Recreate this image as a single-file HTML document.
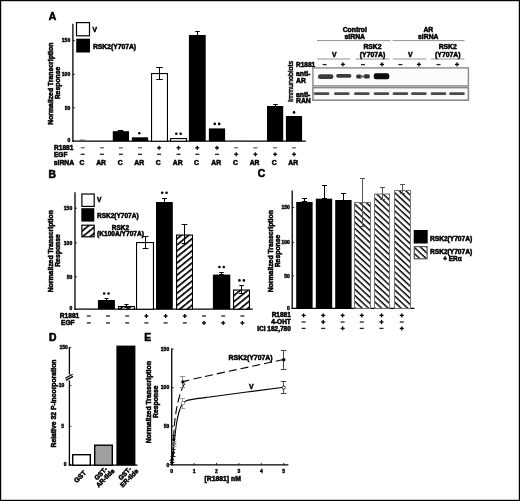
<!DOCTYPE html>
<html><head><meta charset="utf-8"><style>
html,body{margin:0;padding:0;background:#fff;}
svg{display:block;will-change:transform;}
text{font-family:"Liberation Sans", sans-serif;stroke:#000;stroke-width:0.5px;}
</style></head><body>
<svg width="520" height="501" viewBox="0 0 520 501">
<defs>
<pattern id="hatchB" patternUnits="userSpaceOnUse" width="20" height="4.7" patternTransform="rotate(-39)">
<rect width="20" height="4.7" fill="#fff"/><rect x="0" y="0" width="20" height="1.7" fill="#000"/></pattern>
<pattern id="hatchC" patternUnits="userSpaceOnUse" width="20" height="4.45" patternTransform="rotate(43)">
<rect width="20" height="4.45" fill="#fff"/><rect x="0" y="0" width="20" height="1.45" fill="#000"/></pattern>
<filter id="gblur" x="0" y="0" width="520" height="501" filterUnits="userSpaceOnUse"><feConvolveMatrix order="3" kernelMatrix="1 2 1 2 8 2 1 2 1" divisor="20" edgeMode="duplicate" preserveAlpha="true"/></filter>
<filter id="blur" x="-20%" y="-50%" width="140%" height="200%"><feGaussianBlur stdDeviation="0.75"/></filter>
</defs>
<rect width="520" height="501" fill="#fff"/>
<rect x="0.60" y="0.60" width="518.80" height="499.80" fill="none" stroke="#000" stroke-width="1.2"/>
<text x="48.80" y="19.90" font-size="10.3" font-weight="bold" style="stroke-width:0.6px">A</text>
<line x1="72.90" y1="23.80" x2="72.90" y2="141.80" stroke="#000" stroke-width="1.3" />
<line x1="72.30" y1="141.20" x2="305.80" y2="141.20" stroke="#000" stroke-width="1.3" />
<line x1="72.90" y1="40.60" x2="74.90" y2="40.60" stroke="#000" stroke-width="0.8" />
<text x="70.20" y="42.39" font-size="5.0" text-anchor="end" font-weight="bold" fill="#000" style="stroke-width:0.4px">150</text>
<line x1="72.90" y1="74.30" x2="74.90" y2="74.30" stroke="#000" stroke-width="0.8" />
<text x="70.20" y="76.09" font-size="5.0" text-anchor="end" font-weight="bold" fill="#000" style="stroke-width:0.4px">100</text>
<line x1="72.90" y1="107.80" x2="74.90" y2="107.80" stroke="#000" stroke-width="0.8" />
<text x="70.20" y="109.59" font-size="5.0" text-anchor="end" font-weight="bold" fill="#000" style="stroke-width:0.4px">50</text>
<text x="70.20" y="141.99" font-size="5.0" text-anchor="end" font-weight="bold" fill="#000" style="stroke-width:0.4px">0</text>
<text x="0" y="0" font-size="6.85" text-anchor="middle" font-weight="bold" transform="translate(53.20 83.70) rotate(-90)">Normalized Transcription</text>
<text x="0" y="0" font-size="6.85" text-anchor="middle" font-weight="bold" transform="translate(60.40 83.00) rotate(-90)">Response</text>
<rect x="76.50" y="22.60" width="13.00" height="13.20" fill="#fff" stroke="#000" stroke-width="1.2"/>
<rect x="76.20" y="38.70" width="13.80" height="13.80" fill="#000"/>
<text x="92.60" y="31.63" font-size="6.8" text-anchor="start" font-weight="bold" fill="#000" >V</text>
<text x="92.90" y="48.62" font-size="6.75" text-anchor="start" font-weight="bold" fill="#000" >RSK2(Y707A)</text>
<rect x="79.70" y="139.60" width="5.20" height="1.20" fill="#555"/>
<rect x="112.80" y="131.20" width="16.20" height="10.00" fill="#000"/>
<line x1="120.50" y1="130.50" x2="120.50" y2="131.50" stroke="#000" stroke-width="1.0" />
<line x1="117.80" y1="130.50" x2="123.20" y2="130.50" stroke="#000" stroke-width="1.0" />
<line x1="117.80" y1="131.50" x2="123.20" y2="131.50" stroke="#000" stroke-width="1.0" />
<rect x="131.90" y="137.30" width="16.20" height="3.90" fill="#000"/>
<circle cx="139.30" cy="133.20" r="1.3" fill="#000"/>
<rect x="151.55" y="73.55" width="15.90" height="67.65" fill="#fff" stroke="#000" stroke-width="1.1"/>
<line x1="159.50" y1="67.50" x2="159.50" y2="79.50" stroke="#000" stroke-width="1.0" />
<line x1="156.25" y1="67.50" x2="162.75" y2="67.50" stroke="#000" stroke-width="1.0" />
<line x1="156.25" y1="79.50" x2="162.75" y2="79.50" stroke="#000" stroke-width="1.0" />
<rect x="170.55" y="138.55" width="15.90" height="2.65" fill="#fff" stroke="#000" stroke-width="1.1"/>
<circle cx="176.30" cy="133.80" r="1.3" fill="#000"/>
<circle cx="180.70" cy="133.80" r="1.3" fill="#000"/>
<rect x="188.90" y="35.00" width="16.80" height="106.20" fill="#000"/>
<line x1="197.50" y1="31.50" x2="197.50" y2="35.50" stroke="#000" stroke-width="1.0" />
<line x1="195.25" y1="31.50" x2="199.75" y2="31.50" stroke="#000" stroke-width="1.0" />
<line x1="195.25" y1="35.50" x2="199.75" y2="35.50" stroke="#000" stroke-width="1.0" />
<rect x="208.90" y="128.40" width="16.20" height="12.80" fill="#000"/>
<circle cx="214.80" cy="123.90" r="1.3" fill="#000"/>
<circle cx="219.20" cy="123.90" r="1.3" fill="#000"/>
<rect x="230.20" y="140.20" width="12.00" height="0.80" fill="#777"/>
<rect x="267.00" y="106.00" width="16.20" height="35.20" fill="#000"/>
<line x1="275.50" y1="104.50" x2="275.50" y2="106.50" stroke="#000" stroke-width="1.0" />
<line x1="273.25" y1="104.50" x2="277.75" y2="104.50" stroke="#000" stroke-width="1.0" />
<line x1="273.25" y1="106.50" x2="277.75" y2="106.50" stroke="#000" stroke-width="1.0" />
<rect x="285.90" y="116.00" width="16.20" height="25.20" fill="#000"/>
<circle cx="294.00" cy="112.40" r="1.3" fill="#000"/>
<text x="54.00" y="149.96" font-size="6.6" text-anchor="start" font-weight="bold" fill="#000" >R1881</text>
<text x="54.00" y="156.93" font-size="6.5" text-anchor="start" font-weight="bold" fill="#000" >EGF</text>
<text x="53.80" y="164.73" font-size="6.8" text-anchor="start" font-weight="bold" fill="#000" >siRNA</text>
<rect x="80.70" y="147.15" width="4.00" height="1.30" fill="#666"/>
<rect x="80.70" y="153.65" width="4.00" height="1.30" fill="#222"/>
<text x="81.90" y="164.83" font-size="6.8" text-anchor="middle" font-weight="bold" fill="#000" >C</text>
<rect x="99.90" y="147.15" width="4.00" height="1.30" fill="#666"/>
<rect x="99.90" y="153.65" width="4.00" height="1.30" fill="#222"/>
<text x="101.10" y="164.83" font-size="6.8" text-anchor="middle" font-weight="bold" fill="#000" >AR</text>
<rect x="118.90" y="147.15" width="4.00" height="1.30" fill="#666"/>
<rect x="118.90" y="153.65" width="4.00" height="1.30" fill="#222"/>
<text x="120.10" y="164.83" font-size="6.8" text-anchor="middle" font-weight="bold" fill="#000" >C</text>
<rect x="138.00" y="147.15" width="4.00" height="1.30" fill="#666"/>
<rect x="138.00" y="153.65" width="4.00" height="1.30" fill="#222"/>
<text x="139.20" y="164.83" font-size="6.8" text-anchor="middle" font-weight="bold" fill="#000" >AR</text>
<rect x="157.10" y="147.15" width="4.00" height="1.30" fill="#000"/>
<rect x="158.45" y="145.80" width="1.30" height="4.00" fill="#000"/>
<rect x="157.10" y="153.65" width="4.00" height="1.30" fill="#222"/>
<text x="158.30" y="164.83" font-size="6.8" text-anchor="middle" font-weight="bold" fill="#000" >C</text>
<rect x="176.50" y="147.15" width="4.00" height="1.30" fill="#000"/>
<rect x="177.85" y="145.80" width="1.30" height="4.00" fill="#000"/>
<rect x="176.50" y="153.65" width="4.00" height="1.30" fill="#222"/>
<text x="177.70" y="164.83" font-size="6.8" text-anchor="middle" font-weight="bold" fill="#000" >AR</text>
<rect x="195.30" y="147.15" width="4.00" height="1.30" fill="#000"/>
<rect x="196.65" y="145.80" width="1.30" height="4.00" fill="#000"/>
<rect x="195.30" y="153.65" width="4.00" height="1.30" fill="#222"/>
<text x="196.50" y="164.83" font-size="6.8" text-anchor="middle" font-weight="bold" fill="#000" >C</text>
<rect x="215.00" y="147.15" width="4.00" height="1.30" fill="#000"/>
<rect x="216.35" y="145.80" width="1.30" height="4.00" fill="#000"/>
<rect x="215.00" y="153.65" width="4.00" height="1.30" fill="#222"/>
<text x="216.20" y="164.83" font-size="6.8" text-anchor="middle" font-weight="bold" fill="#000" >AR</text>
<rect x="234.20" y="147.15" width="4.00" height="1.30" fill="#666"/>
<rect x="234.20" y="153.65" width="4.00" height="1.30" fill="#000"/>
<rect x="235.55" y="152.30" width="1.30" height="4.00" fill="#000"/>
<text x="235.40" y="164.83" font-size="6.8" text-anchor="middle" font-weight="bold" fill="#000" >C</text>
<rect x="253.40" y="147.15" width="4.00" height="1.30" fill="#666"/>
<rect x="253.40" y="153.65" width="4.00" height="1.30" fill="#000"/>
<rect x="254.75" y="152.30" width="1.30" height="4.00" fill="#000"/>
<text x="254.60" y="164.83" font-size="6.8" text-anchor="middle" font-weight="bold" fill="#000" >AR</text>
<rect x="273.10" y="147.15" width="4.00" height="1.30" fill="#666"/>
<rect x="273.10" y="153.65" width="4.00" height="1.30" fill="#000"/>
<rect x="274.45" y="152.30" width="1.30" height="4.00" fill="#000"/>
<text x="274.30" y="164.83" font-size="6.8" text-anchor="middle" font-weight="bold" fill="#000" >C</text>
<rect x="292.00" y="147.15" width="4.00" height="1.30" fill="#666"/>
<rect x="292.00" y="153.65" width="4.00" height="1.30" fill="#000"/>
<rect x="293.35" y="152.30" width="1.30" height="4.00" fill="#000"/>
<text x="293.20" y="164.83" font-size="6.8" text-anchor="middle" font-weight="bold" fill="#000" >AR</text>
<text x="354.80" y="32.33" font-size="6.8" text-anchor="middle" font-weight="bold" fill="#000" >Control</text>
<text x="354.80" y="39.43" font-size="6.8" text-anchor="middle" font-weight="bold" fill="#000" >siRNA</text>
<text x="428.30" y="32.33" font-size="6.8" text-anchor="middle" font-weight="bold" fill="#000" >AR</text>
<text x="428.30" y="39.43" font-size="6.8" text-anchor="middle" font-weight="bold" fill="#000" >siRNA</text>
<line x1="317.00" y1="40.60" x2="390.50" y2="40.60" stroke="#888" stroke-width="0.9" />
<line x1="392.50" y1="40.60" x2="464.50" y2="40.60" stroke="#888" stroke-width="0.9" />
<line x1="317.10" y1="59.00" x2="350.40" y2="59.00" stroke="#888" stroke-width="0.9" />
<text x="334.35" y="57.13" font-size="6.8" text-anchor="middle" font-weight="bold" fill="#000" >V</text>
<line x1="355.50" y1="59.00" x2="389.50" y2="59.00" stroke="#888" stroke-width="0.9" />
<text x="372.50" y="49.43" font-size="6.8" text-anchor="middle" font-weight="bold" fill="#000" >RSK2</text>
<text x="372.50" y="57.13" font-size="6.8" text-anchor="middle" font-weight="bold" fill="#000" >(Y707A)</text>
<line x1="392.90" y1="59.00" x2="426.40" y2="59.00" stroke="#888" stroke-width="0.9" />
<text x="410.25" y="57.13" font-size="6.8" text-anchor="middle" font-weight="bold" fill="#000" >V</text>
<line x1="431.00" y1="59.00" x2="464.50" y2="59.00" stroke="#888" stroke-width="0.9" />
<text x="447.75" y="49.43" font-size="6.8" text-anchor="middle" font-weight="bold" fill="#000" >RSK2</text>
<text x="447.75" y="57.13" font-size="6.8" text-anchor="middle" font-weight="bold" fill="#000" >(Y707A)</text>
<text x="315.20" y="66.53" font-size="6.5" text-anchor="end" font-weight="bold" fill="#000" >R1881</text>
<rect x="322.60" y="63.95" width="4.00" height="1.30" fill="#222"/>
<rect x="340.90" y="63.75" width="4.00" height="1.30" fill="#000"/>
<rect x="342.25" y="62.40" width="1.30" height="4.00" fill="#000"/>
<rect x="361.00" y="63.95" width="4.00" height="1.30" fill="#222"/>
<rect x="380.00" y="63.75" width="4.00" height="1.30" fill="#000"/>
<rect x="381.35" y="62.40" width="1.30" height="4.00" fill="#000"/>
<rect x="398.40" y="63.95" width="4.00" height="1.30" fill="#222"/>
<rect x="416.90" y="63.75" width="4.00" height="1.30" fill="#000"/>
<rect x="418.25" y="62.40" width="1.30" height="4.00" fill="#000"/>
<rect x="436.50" y="63.95" width="4.00" height="1.30" fill="#222"/>
<rect x="455.00" y="63.75" width="4.00" height="1.30" fill="#000"/>
<rect x="456.35" y="62.40" width="1.30" height="4.00" fill="#000"/>
<text x="0" y="0" font-size="7.2" text-anchor="middle" style="stroke-width:0.45px" transform="translate(292.9 81.4) rotate(-90)">Immunoblots</text>
<text x="296.00" y="76.43" font-size="6.8" text-anchor="start" font-weight="bold" fill="#000" >anti-</text>
<text x="296.00" y="83.23" font-size="6.8" text-anchor="start" font-weight="bold" fill="#000" >AR</text>
<text x="296.00" y="96.63" font-size="6.8" text-anchor="start" font-weight="bold" fill="#000" >anti-</text>
<text x="296.00" y="102.73" font-size="6.8" text-anchor="start" font-weight="bold" fill="#000" >RAN</text>
<rect x="312.90" y="67.90" width="155.50" height="18.00" fill="#fcfcfc" stroke="#8a8a8a" stroke-width="1.4"/>
<rect x="312.90" y="87.60" width="155.50" height="12.60" fill="#fafafa" stroke="#8a8a8a" stroke-width="1.6"/>
<g filter="url(#blur)">
<rect x="318" y="74.3" width="15.4" height="4.6" rx="2.2" fill="#3c3c3c"/>
<rect x="336.2" y="74.0" width="15.2" height="3.7" rx="1.8" fill="#3c3c3c"/>
<rect x="356.2" y="74.4" width="5.6" height="4.2" rx="1.6" fill="#333"/>
<rect x="363.6" y="74.2" width="6.2" height="4.4" rx="1.6" fill="#333"/>
<rect x="360" y="75.6" width="5" height="1.8" fill="#666"/>
<rect x="373.7" y="73.2" width="15.6" height="6.1" rx="2.2" fill="#080808"/>
<rect x="313.8" y="92.3" width="15.6" height="2.8" rx="1.4" fill="#4a4a4a"/>
<rect x="334.0" y="92.3" width="15.6" height="2.8" rx="1.4" fill="#4a4a4a"/>
<rect x="354.0" y="92.3" width="15.6" height="2.8" rx="1.4" fill="#4a4a4a"/>
<rect x="373.7" y="92.3" width="15.6" height="2.8" rx="1.4" fill="#4a4a4a"/>
<rect x="392.6" y="92.3" width="15.6" height="2.8" rx="1.4" fill="#4a4a4a"/>
<rect x="411.1" y="92.3" width="15.6" height="2.8" rx="1.4" fill="#4a4a4a"/>
<rect x="430.7" y="92.3" width="15.6" height="2.8" rx="1.4" fill="#4a4a4a"/>
<rect x="449.2" y="92.3" width="15.6" height="2.8" rx="1.4" fill="#4a4a4a"/>
</g>
<text x="48.60" y="177.70" font-size="10.3" font-weight="bold" style="stroke-width:0.6px">B</text>
<line x1="75.00" y1="192.30" x2="75.00" y2="309.80" stroke="#000" stroke-width="1.3" />
<line x1="74.40" y1="309.20" x2="252.70" y2="309.20" stroke="#000" stroke-width="1.3" />
<line x1="75.00" y1="208.20" x2="77.00" y2="208.20" stroke="#000" stroke-width="0.8" />
<text x="72.20" y="209.99" font-size="5.0" text-anchor="end" font-weight="bold" fill="#000" style="stroke-width:0.4px">150</text>
<line x1="75.00" y1="242.90" x2="77.00" y2="242.90" stroke="#000" stroke-width="0.8" />
<text x="72.20" y="244.69" font-size="5.0" text-anchor="end" font-weight="bold" fill="#000" style="stroke-width:0.4px">100</text>
<line x1="75.00" y1="276.80" x2="77.00" y2="276.80" stroke="#000" stroke-width="0.8" />
<text x="72.20" y="278.59" font-size="5.0" text-anchor="end" font-weight="bold" fill="#000" style="stroke-width:0.4px">50</text>
<text x="72.20" y="309.89" font-size="5.0" text-anchor="end" font-weight="bold" fill="#000" style="stroke-width:0.4px">0</text>
<text x="0" y="0" font-size="6.85" text-anchor="middle" font-weight="bold" transform="translate(53.40 251.20) rotate(-90)">Normalized Transcription</text>
<text x="0" y="0" font-size="6.85" text-anchor="middle" font-weight="bold" transform="translate(60.40 250.50) rotate(-90)">Response</text>
<rect x="81.90" y="194.00" width="12.30" height="12.40" fill="#fff" stroke="#000" stroke-width="1.2"/>
<rect x="81.30" y="208.20" width="13.00" height="13.40" fill="#000"/>
<rect x="81.90" y="225.20" width="12.30" height="11.60" fill="url(#hatchB)" stroke="#000" stroke-width="1.2"/>
<text x="97.00" y="201.96" font-size="6.6" text-anchor="start" font-weight="bold" fill="#000" >V</text>
<text x="97.00" y="217.63" font-size="6.5" text-anchor="start" font-weight="bold" fill="#000" >RSK2(Y707A)</text>
<text x="120.50" y="229.73" font-size="6.5" text-anchor="middle" font-weight="bold" fill="#000" >RSK2</text>
<text x="120.50" y="236.16" font-size="6.6" text-anchor="middle" font-weight="bold" fill="#000" >(K100A/Y707A)</text>
<rect x="82.00" y="308.00" width="10.00" height="1.00" fill="#777"/>
<rect x="97.90" y="300.00" width="17.00" height="9.20" fill="#000"/>
<line x1="106.50" y1="298.50" x2="106.50" y2="300.50" stroke="#000" stroke-width="1.0" />
<line x1="104.50" y1="298.50" x2="108.50" y2="298.50" stroke="#000" stroke-width="1.0" />
<line x1="104.50" y1="300.50" x2="108.50" y2="300.50" stroke="#000" stroke-width="1.0" />
<circle cx="104.20" cy="293.50" r="1.3" fill="#000"/>
<circle cx="108.60" cy="293.50" r="1.3" fill="#000"/>
<rect x="118.55" y="306.55" width="15.90" height="2.65" fill="url(#hatchB)" stroke="#000" stroke-width="1.1"/>
<line x1="126.50" y1="304.50" x2="126.50" y2="307.50" stroke="#000" stroke-width="1.0" />
<line x1="124.50" y1="304.50" x2="128.50" y2="304.50" stroke="#000" stroke-width="1.0" />
<line x1="124.50" y1="307.50" x2="128.50" y2="307.50" stroke="#000" stroke-width="1.0" />
<rect x="136.55" y="242.55" width="16.90" height="66.65" fill="#fff" stroke="#000" stroke-width="1.1"/>
<line x1="145.50" y1="236.50" x2="145.50" y2="248.50" stroke="#000" stroke-width="1.0" />
<line x1="142.60" y1="236.50" x2="148.40" y2="236.50" stroke="#000" stroke-width="1.0" />
<line x1="142.60" y1="248.50" x2="148.40" y2="248.50" stroke="#000" stroke-width="1.0" />
<rect x="156.00" y="202.00" width="16.80" height="107.20" fill="#000"/>
<line x1="164.50" y1="198.50" x2="164.50" y2="202.50" stroke="#000" stroke-width="1.0" />
<line x1="162.00" y1="198.50" x2="167.00" y2="198.50" stroke="#000" stroke-width="1.0" />
<line x1="162.00" y1="202.50" x2="167.00" y2="202.50" stroke="#000" stroke-width="1.0" />
<circle cx="162.20" cy="192.70" r="1.3" fill="#000"/>
<circle cx="166.60" cy="192.70" r="1.3" fill="#000"/>
<rect x="176.55" y="235.05" width="15.90" height="74.15" fill="url(#hatchB)" stroke="#000" stroke-width="1.1"/>
<line x1="184.50" y1="224.50" x2="184.50" y2="243.50" stroke="#000" stroke-width="1.0" />
<line x1="181.60" y1="224.50" x2="187.40" y2="224.50" stroke="#000" stroke-width="1.0" />
<line x1="181.60" y1="243.50" x2="187.40" y2="243.50" stroke="#000" stroke-width="1.0" />
<rect x="212.90" y="274.60" width="17.40" height="34.60" fill="#000"/>
<line x1="221.50" y1="272.50" x2="221.50" y2="274.50" stroke="#000" stroke-width="1.0" />
<line x1="219.25" y1="272.50" x2="223.75" y2="272.50" stroke="#000" stroke-width="1.0" />
<line x1="219.25" y1="274.50" x2="223.75" y2="274.50" stroke="#000" stroke-width="1.0" />
<circle cx="219.40" cy="267.00" r="1.3" fill="#000"/>
<circle cx="223.80" cy="267.00" r="1.3" fill="#000"/>
<rect x="233.55" y="290.05" width="15.90" height="19.15" fill="url(#hatchB)" stroke="#000" stroke-width="1.1"/>
<line x1="241.50" y1="285.50" x2="241.50" y2="293.50" stroke="#000" stroke-width="1.0" />
<line x1="239.25" y1="285.50" x2="243.75" y2="285.50" stroke="#000" stroke-width="1.0" />
<line x1="239.25" y1="293.50" x2="243.75" y2="293.50" stroke="#000" stroke-width="1.0" />
<circle cx="239.45" cy="280.40" r="1.3" fill="#000"/>
<circle cx="243.85" cy="280.40" r="1.3" fill="#000"/>
<text x="59.80" y="317.76" font-size="6.6" text-anchor="start" font-weight="bold" fill="#000" >R1881</text>
<text x="61.00" y="325.26" font-size="6.6" text-anchor="start" font-weight="bold" fill="#000" >EGF</text>
<rect x="86.80" y="315.35" width="4.00" height="1.30" fill="#222"/>
<rect x="86.80" y="322.25" width="4.00" height="1.30" fill="#222"/>
<rect x="106.00" y="315.35" width="4.00" height="1.30" fill="#222"/>
<rect x="106.00" y="322.25" width="4.00" height="1.30" fill="#222"/>
<rect x="125.20" y="315.35" width="4.00" height="1.30" fill="#222"/>
<rect x="125.20" y="322.25" width="4.00" height="1.30" fill="#222"/>
<rect x="144.40" y="315.35" width="4.00" height="1.30" fill="#000"/>
<rect x="145.75" y="314.00" width="1.30" height="4.00" fill="#000"/>
<rect x="144.40" y="322.25" width="4.00" height="1.30" fill="#222"/>
<rect x="163.60" y="315.35" width="4.00" height="1.30" fill="#000"/>
<rect x="164.95" y="314.00" width="1.30" height="4.00" fill="#000"/>
<rect x="163.60" y="322.25" width="4.00" height="1.30" fill="#222"/>
<rect x="182.80" y="315.35" width="4.00" height="1.30" fill="#000"/>
<rect x="184.15" y="314.00" width="1.30" height="4.00" fill="#000"/>
<rect x="182.80" y="322.25" width="4.00" height="1.30" fill="#222"/>
<rect x="202.00" y="315.35" width="4.00" height="1.30" fill="#222"/>
<rect x="202.00" y="322.25" width="4.00" height="1.30" fill="#000"/>
<rect x="203.35" y="320.90" width="1.30" height="4.00" fill="#000"/>
<rect x="221.20" y="315.35" width="4.00" height="1.30" fill="#222"/>
<rect x="221.20" y="322.25" width="4.00" height="1.30" fill="#000"/>
<rect x="222.55" y="320.90" width="1.30" height="4.00" fill="#000"/>
<rect x="240.40" y="315.35" width="4.00" height="1.30" fill="#222"/>
<rect x="240.40" y="322.25" width="4.00" height="1.30" fill="#000"/>
<rect x="241.75" y="320.90" width="1.30" height="4.00" fill="#000"/>
<text x="257.80" y="177.30" font-size="10.3" font-weight="bold" style="stroke-width:0.6px">C</text>
<line x1="292.20" y1="190.60" x2="292.20" y2="309.00" stroke="#000" stroke-width="1.3" />
<line x1="291.60" y1="308.40" x2="414.40" y2="308.40" stroke="#000" stroke-width="1.3" />
<line x1="292.20" y1="207.50" x2="294.20" y2="207.50" stroke="#000" stroke-width="0.8" />
<text x="289.80" y="209.29" font-size="5.0" text-anchor="end" font-weight="bold" fill="#000" style="stroke-width:0.4px">150</text>
<line x1="292.20" y1="242.40" x2="294.20" y2="242.40" stroke="#000" stroke-width="0.8" />
<text x="289.80" y="244.19" font-size="5.0" text-anchor="end" font-weight="bold" fill="#000" style="stroke-width:0.4px">100</text>
<line x1="292.20" y1="275.80" x2="294.20" y2="275.80" stroke="#000" stroke-width="0.8" />
<text x="289.80" y="277.59" font-size="5.0" text-anchor="end" font-weight="bold" fill="#000" style="stroke-width:0.4px">50</text>
<text x="289.80" y="309.69" font-size="5.0" text-anchor="end" font-weight="bold" fill="#000" style="stroke-width:0.4px">0</text>
<text x="0" y="0" font-size="6.85" text-anchor="middle" font-weight="bold" transform="translate(272.60 251.20) rotate(-90)">Normalized Transcription</text>
<text x="0" y="0" font-size="6.85" text-anchor="middle" font-weight="bold" transform="translate(279.60 251.00) rotate(-90)">Response</text>
<rect x="296.20" y="201.90" width="16.40" height="106.50" fill="#000"/>
<rect x="315.80" y="198.70" width="16.40" height="109.70" fill="#000"/>
<rect x="335.20" y="200.00" width="16.40" height="108.40" fill="#000"/>
<rect x="354.50" y="202.50" width="16.00" height="105.90" fill="url(#hatchC)" stroke="#777" stroke-width="1.0"/>
<rect x="374.50" y="194.00" width="15.00" height="114.40" fill="url(#hatchC)" stroke="#777" stroke-width="1.0"/>
<rect x="394.50" y="190.50" width="16.00" height="117.90" fill="url(#hatchC)" stroke="#777" stroke-width="1.0"/>
<line x1="304.50" y1="198.50" x2="304.50" y2="201.50" stroke="#000" stroke-width="1.0" />
<line x1="302.00" y1="198.50" x2="307.00" y2="198.50" stroke="#000" stroke-width="1.0" />
<line x1="302.00" y1="201.50" x2="307.00" y2="201.50" stroke="#000" stroke-width="1.0" />
<line x1="324.50" y1="185.50" x2="324.50" y2="198.50" stroke="#000" stroke-width="1.0" />
<line x1="322.00" y1="185.50" x2="327.00" y2="185.50" stroke="#000" stroke-width="1.0" />
<line x1="322.00" y1="198.50" x2="327.00" y2="198.50" stroke="#000" stroke-width="1.0" />
<line x1="343.50" y1="193.50" x2="343.50" y2="200.50" stroke="#000" stroke-width="1.0" />
<line x1="341.00" y1="193.50" x2="346.00" y2="193.50" stroke="#000" stroke-width="1.0" />
<line x1="341.00" y1="200.50" x2="346.00" y2="200.50" stroke="#000" stroke-width="1.0" />
<line x1="362.50" y1="178.50" x2="362.50" y2="226.50" stroke="#555" stroke-width="1.0" />
<line x1="360.00" y1="178.50" x2="365.00" y2="178.50" stroke="#555" stroke-width="1.0" />
<line x1="360.00" y1="226.50" x2="365.00" y2="226.50" stroke="#555" stroke-width="1.0" />
<line x1="382.50" y1="187.50" x2="382.50" y2="199.50" stroke="#555" stroke-width="1.0" />
<line x1="380.00" y1="187.50" x2="385.00" y2="187.50" stroke="#555" stroke-width="1.0" />
<line x1="380.00" y1="199.50" x2="385.00" y2="199.50" stroke="#555" stroke-width="1.0" />
<line x1="402.50" y1="184.50" x2="402.50" y2="193.50" stroke="#555" stroke-width="1.0" />
<line x1="400.00" y1="184.50" x2="405.00" y2="184.50" stroke="#555" stroke-width="1.0" />
<line x1="400.00" y1="193.50" x2="405.00" y2="193.50" stroke="#555" stroke-width="1.0" />
<text x="290.80" y="316.63" font-size="6.5" text-anchor="end" font-weight="bold" fill="#000" >R1881</text>
<text x="290.80" y="323.93" font-size="6.5" text-anchor="end" font-weight="bold" fill="#000" >4-OHT</text>
<text x="290.80" y="330.83" font-size="6.5" text-anchor="end" font-weight="bold" fill="#000" >ICI 182,780</text>
<rect x="301.60" y="314.75" width="4.00" height="1.30" fill="#000"/>
<rect x="302.95" y="313.40" width="1.30" height="4.00" fill="#000"/>
<rect x="301.60" y="321.35" width="4.00" height="1.30" fill="#222"/>
<rect x="301.60" y="327.75" width="4.00" height="1.30" fill="#222"/>
<rect x="321.20" y="314.75" width="4.00" height="1.30" fill="#000"/>
<rect x="322.55" y="313.40" width="1.30" height="4.00" fill="#000"/>
<rect x="321.20" y="321.35" width="4.00" height="1.30" fill="#000"/>
<rect x="322.55" y="320.00" width="1.30" height="4.00" fill="#000"/>
<rect x="321.20" y="327.75" width="4.00" height="1.30" fill="#222"/>
<rect x="340.60" y="314.75" width="4.00" height="1.30" fill="#000"/>
<rect x="341.95" y="313.40" width="1.30" height="4.00" fill="#000"/>
<rect x="340.60" y="321.35" width="4.00" height="1.30" fill="#222"/>
<rect x="340.60" y="327.75" width="4.00" height="1.30" fill="#000"/>
<rect x="341.95" y="326.40" width="1.30" height="4.00" fill="#000"/>
<rect x="359.80" y="314.75" width="4.00" height="1.30" fill="#000"/>
<rect x="361.15" y="313.40" width="1.30" height="4.00" fill="#000"/>
<rect x="359.80" y="321.35" width="4.00" height="1.30" fill="#222"/>
<rect x="359.80" y="327.75" width="4.00" height="1.30" fill="#222"/>
<rect x="379.50" y="314.75" width="4.00" height="1.30" fill="#000"/>
<rect x="380.85" y="313.40" width="1.30" height="4.00" fill="#000"/>
<rect x="379.50" y="321.35" width="4.00" height="1.30" fill="#000"/>
<rect x="380.85" y="320.00" width="1.30" height="4.00" fill="#000"/>
<rect x="379.50" y="327.75" width="4.00" height="1.30" fill="#222"/>
<rect x="399.80" y="314.75" width="4.00" height="1.30" fill="#000"/>
<rect x="401.15" y="313.40" width="1.30" height="4.00" fill="#000"/>
<rect x="399.80" y="321.35" width="4.00" height="1.30" fill="#222"/>
<rect x="399.80" y="327.75" width="4.00" height="1.30" fill="#000"/>
<rect x="401.15" y="326.40" width="1.30" height="4.00" fill="#000"/>
<rect x="413.70" y="230.00" width="14.00" height="13.50" fill="#000"/>
<rect x="414.30" y="246.60" width="12.80" height="12.20" fill="url(#hatchC)" stroke="#555" stroke-width="1.2"/>
<text x="430.00" y="241.26" font-size="6.6" text-anchor="start" font-weight="bold" fill="#000" >RSK2(Y707A)</text>
<text x="430.00" y="253.66" font-size="6.6" text-anchor="start" font-weight="bold" fill="#000" >RSK2(Y707A)</text>
<text x="452.50" y="260.69" font-size="6.4" text-anchor="middle" font-weight="bold" fill="#000" >+ ERα</text>
<text x="49.00" y="341.00" font-size="10.3" font-weight="bold" style="stroke-width:0.6px">D</text>
<line x1="69.40" y1="347.20" x2="69.40" y2="374.60" stroke="#000" stroke-width="1.3" />
<line x1="69.40" y1="380.30" x2="69.40" y2="465.80" stroke="#000" stroke-width="1.3" />
<line x1="68.80" y1="465.20" x2="137.50" y2="465.20" stroke="#000" stroke-width="1.3" />
<line x1="69.40" y1="347.60" x2="71.40" y2="347.60" stroke="#000" stroke-width="0.8" />
<line x1="65.30" y1="378.20" x2="72.60" y2="374.20" stroke="#000" stroke-width="1.3" />
<line x1="65.80" y1="380.40" x2="73.00" y2="376.40" stroke="#000" stroke-width="1.3" />
<text x="67.80" y="349.39" font-size="5.0" text-anchor="end" font-weight="bold" fill="#000" style="stroke-width:0.4px">150</text>
<line x1="69.40" y1="385.60" x2="71.40" y2="385.60" stroke="#000" stroke-width="0.8" />
<text x="64.20" y="386.99" font-size="5.0" text-anchor="end" font-weight="bold" fill="#000" style="stroke-width:0.4px">10</text>
<line x1="69.40" y1="426.40" x2="71.40" y2="426.40" stroke="#000" stroke-width="0.8" />
<text x="64.00" y="427.79" font-size="5.0" text-anchor="end" font-weight="bold" fill="#000" style="stroke-width:0.4px">5</text>
<line x1="69.40" y1="464.40" x2="71.40" y2="464.40" stroke="#000" stroke-width="0.8" />
<text x="66.60" y="465.79" font-size="5.0" text-anchor="end" font-weight="bold" fill="#000" style="stroke-width:0.4px">0</text>
<text x="0" y="0" font-size="6.8" text-anchor="middle" font-weight="bold" transform="translate(56.4 403.5) rotate(-90)">Relative 32 P-Incorporation</text>
<rect x="72.70" y="454.70" width="17.60" height="10.50" fill="#fff" stroke="#000" stroke-width="1.4"/>
<rect x="94.70" y="445.20" width="17.60" height="20.00" fill="#a0a0a0" stroke="#000" stroke-width="1.4"/>
<rect x="116.40" y="345.60" width="19.00" height="119.60" fill="#000"/>
<text x="81.70" y="478.30" font-size="6.8" text-anchor="middle" font-weight="bold" fill="#000" transform="rotate(-45 81.70 478.30)" >GST</text>
<text x="0" y="0" font-size="6.5" text-anchor="middle" font-weight="bold" transform="translate(103.4 476.2) rotate(-45)"><tspan x="0" dy="-1.5">GST-</tspan><tspan x="0" dy="6.3">AR-tide</tspan></text>
<text x="0" y="0" font-size="6.5" text-anchor="middle" font-weight="bold" transform="translate(127.4 476.2) rotate(-45)"><tspan x="0" dy="-1.5">GST-</tspan><tspan x="0" dy="6.3">ER-tide</tspan></text>
<text x="144.20" y="341.20" font-size="10.3" font-weight="bold" style="stroke-width:0.6px">E</text>
<line x1="171.70" y1="348.40" x2="171.70" y2="465.50" stroke="#000" stroke-width="1.3" />
<line x1="171.10" y1="464.90" x2="288.40" y2="464.90" stroke="#000" stroke-width="1.3" />
<line x1="171.70" y1="349.02" x2="173.70" y2="349.02" stroke="#000" stroke-width="0.8" />
<text x="169.20" y="350.81" font-size="5.0" text-anchor="end" font-weight="bold" fill="#000" style="stroke-width:0.4px">150</text>
<line x1="171.70" y1="387.65" x2="173.70" y2="387.65" stroke="#000" stroke-width="0.8" />
<text x="169.20" y="389.44" font-size="5.0" text-anchor="end" font-weight="bold" fill="#000" style="stroke-width:0.4px">100</text>
<line x1="171.70" y1="426.27" x2="173.70" y2="426.27" stroke="#000" stroke-width="0.8" />
<text x="169.20" y="428.06" font-size="5.0" text-anchor="end" font-weight="bold" fill="#000" style="stroke-width:0.4px">50</text>
<text x="169.20" y="466.69" font-size="5.0" text-anchor="end" font-weight="bold" fill="#000" style="stroke-width:0.4px">0</text>
<text x="171.70" y="472.79" font-size="5.0" text-anchor="middle" font-weight="bold" fill="#000" style="stroke-width:0.4px">0</text>
<line x1="194.10" y1="464.90" x2="194.10" y2="462.90" stroke="#000" stroke-width="0.8" />
<text x="194.10" y="472.79" font-size="5.0" text-anchor="middle" font-weight="bold" fill="#000" style="stroke-width:0.4px">1</text>
<line x1="216.50" y1="464.90" x2="216.50" y2="462.90" stroke="#000" stroke-width="0.8" />
<text x="216.50" y="472.79" font-size="5.0" text-anchor="middle" font-weight="bold" fill="#000" style="stroke-width:0.4px">2</text>
<line x1="238.90" y1="464.90" x2="238.90" y2="462.90" stroke="#000" stroke-width="0.8" />
<text x="238.90" y="472.79" font-size="5.0" text-anchor="middle" font-weight="bold" fill="#000" style="stroke-width:0.4px">3</text>
<line x1="261.30" y1="464.90" x2="261.30" y2="462.90" stroke="#000" stroke-width="0.8" />
<text x="261.30" y="472.79" font-size="5.0" text-anchor="middle" font-weight="bold" fill="#000" style="stroke-width:0.4px">4</text>
<line x1="283.70" y1="464.90" x2="283.70" y2="462.90" stroke="#000" stroke-width="0.8" />
<text x="283.70" y="472.79" font-size="5.0" text-anchor="middle" font-weight="bold" fill="#000" style="stroke-width:0.4px">5</text>
<text x="240.80" y="480.73" font-size="6.8" text-anchor="end" font-weight="bold" fill="#000" >[R1881] nM</text>
<text x="0" y="0" font-size="6.85" text-anchor="middle" font-weight="bold" transform="translate(151.00 402.20) rotate(-90)">Normalized Transcription</text>
<text x="0" y="0" font-size="6.85" text-anchor="middle" font-weight="bold" transform="translate(158.00 401.70) rotate(-90)">Response</text>
<path d="M172.00,463.50 C172.33,460.42 173.28,451.42 174.00,445.00 C174.72,438.58 175.53,430.25 176.30,425.00 C177.07,419.75 177.85,416.50 178.60,413.50 C179.35,410.50 180.07,408.72 180.80,407.00 C181.53,405.28 182.13,404.22 183.00,403.20 C183.87,402.18 184.67,401.50 186.00,400.90 C187.33,400.30 187.33,400.22 191.00,399.60 C194.67,398.98 192.53,399.27 208.00,397.20 C223.47,395.13 271.17,388.87 283.80,387.20" fill="none" stroke="#000" stroke-width="1.1"/>
<path d="M172.30,462.00 C172.47,459.17 172.95,451.17 173.30,445.00 C173.65,438.83 173.95,430.50 174.40,425.00 C174.85,419.50 175.40,415.83 176.00,412.00 C176.60,408.17 177.25,405.17 178.00,402.00 C178.75,398.83 179.58,395.75 180.50,393.00 C181.42,390.25 182.33,387.45 183.50,385.50 C184.67,383.55 185.92,382.37 187.50,381.30 C189.08,380.23 176.95,382.73 193.00,379.10 C209.05,375.47 268.67,362.77 283.80,359.50" fill="none" stroke="#000" stroke-width="1.1" stroke-dasharray="8 4"/>
<line x1="182.50" y1="376.50" x2="182.50" y2="387.50" stroke="#888" stroke-width="0.9" />
<line x1="179.75" y1="376.50" x2="185.25" y2="376.50" stroke="#888" stroke-width="0.9" />
<line x1="179.75" y1="387.50" x2="185.25" y2="387.50" stroke="#888" stroke-width="0.9" />
<circle cx="182.9" cy="381.9" r="1.7" fill="#000"/>
<line x1="182.50" y1="398.50" x2="182.50" y2="408.50" stroke="#999" stroke-width="0.9" />
<line x1="179.75" y1="398.50" x2="185.25" y2="398.50" stroke="#999" stroke-width="0.9" />
<line x1="179.75" y1="408.50" x2="185.25" y2="408.50" stroke="#999" stroke-width="0.9" />
<circle cx="182.9" cy="403.1" r="1.8" fill="#fff" stroke="#777" stroke-width="0.8"/>
<line x1="283.50" y1="350.50" x2="283.50" y2="369.50" stroke="#333" stroke-width="0.9" />
<line x1="280.75" y1="350.50" x2="286.25" y2="350.50" stroke="#333" stroke-width="0.9" />
<line x1="280.75" y1="369.50" x2="286.25" y2="369.50" stroke="#333" stroke-width="0.9" />
<circle cx="283.7" cy="359.8" r="1.8" fill="#000"/>
<line x1="283.50" y1="381.50" x2="283.50" y2="393.50" stroke="#333" stroke-width="0.9" />
<line x1="280.75" y1="381.50" x2="286.25" y2="381.50" stroke="#333" stroke-width="0.9" />
<line x1="280.75" y1="393.50" x2="286.25" y2="393.50" stroke="#333" stroke-width="0.9" />
<circle cx="283.7" cy="387.6" r="1.6" fill="#fff" stroke="#000" stroke-width="0.8"/>
<line x1="173.50" y1="435.50" x2="173.50" y2="443.50" stroke="#111" stroke-width="0.9" />
<line x1="171.50" y1="435.50" x2="175.50" y2="435.50" stroke="#111" stroke-width="0.9" />
<line x1="171.50" y1="443.50" x2="175.50" y2="443.50" stroke="#111" stroke-width="0.9" />
<circle cx="173.7" cy="439.6" r="1.6" fill="#000"/>
<line x1="173.50" y1="449.50" x2="173.50" y2="456.50" stroke="#111" stroke-width="0.9" />
<line x1="171.50" y1="449.50" x2="175.50" y2="449.50" stroke="#111" stroke-width="0.9" />
<line x1="171.50" y1="456.50" x2="175.50" y2="456.50" stroke="#111" stroke-width="0.9" />
<circle cx="173.3" cy="452.5" r="1.6" fill="#000"/>
<line x1="172.50" y1="456.50" x2="172.50" y2="462.50" stroke="#111" stroke-width="0.9" />
<line x1="170.50" y1="456.50" x2="174.50" y2="456.50" stroke="#111" stroke-width="0.9" />
<line x1="170.50" y1="462.50" x2="174.50" y2="462.50" stroke="#111" stroke-width="0.9" />
<circle cx="172.2" cy="459.3" r="1.6" fill="#000"/>
<line x1="171.50" y1="460.50" x2="171.50" y2="464.50" stroke="#111" stroke-width="0.9" />
<line x1="169.50" y1="460.50" x2="173.50" y2="460.50" stroke="#111" stroke-width="0.9" />
<line x1="169.50" y1="464.50" x2="173.50" y2="464.50" stroke="#111" stroke-width="0.9" />
<circle cx="171.9" cy="462.6" r="1.6" fill="#000"/>
<line x1="174.50" y1="441.50" x2="174.50" y2="446.50" stroke="#999" stroke-width="0.9" />
<line x1="172.50" y1="441.50" x2="176.50" y2="441.50" stroke="#999" stroke-width="0.9" />
<line x1="172.50" y1="446.50" x2="176.50" y2="446.50" stroke="#999" stroke-width="0.9" />
<circle cx="174.8" cy="443.5" r="1.6" fill="#888"/>
<text x="228.60" y="360.47" font-size="6.9" text-anchor="start" font-weight="bold" fill="#000" >RSK2(Y707A)</text>
<text x="251.30" y="388.87" font-size="6.9" text-anchor="middle" font-weight="bold" fill="#000" >V</text>
</svg>
</body></html>
